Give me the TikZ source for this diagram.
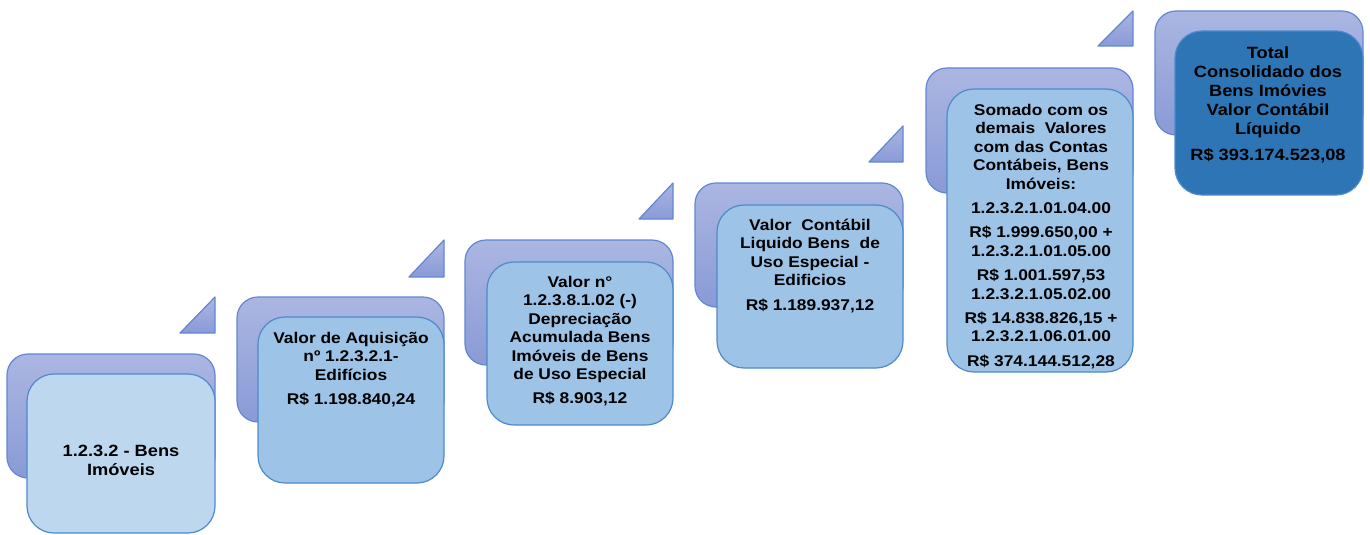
\documentclass[tikz,border=0pt]{standalone}
\usepackage{fontspec}
\setmainfont{Liberation Sans}[FakeStretch=1.12]
\usepackage{tikz}

\definecolor{backtop}{RGB}{171,182,225}
\definecolor{backbot}{RGB}{137,154,214}
\definecolor{backline}{RGB}{98,134,212}
\definecolor{lightfill}{RGB}{189,215,238}
\definecolor{midfill}{RGB}{157,195,230}
\definecolor{darkfill}{RGB}{46,117,182}
\definecolor{frontline}{RGB}{78,138,204}

\begin{document}
\begin{tikzpicture}[line cap=round,line join=round,x=1pt,y=-1pt,
  backbox/.style={draw=backline,line width=1.2pt,rounded corners=21pt,top color=backtop,bottom color=backbot},
  frontbox/.style={draw=frontline,line width=1.2pt,rounded corners=27pt},
  steptri/.style={draw=backline,line width=1.2pt,top color=backtop,bottom color=backbot},
  steptext/.style={anchor=north,align=center,inner sep=0pt,font=\bfseries\fontsize{15.5}{18.4}\selectfont},
  bigtext/.style={font=\bfseries\fontsize{16.3}{19}\selectfont}]
\useasboundingbox (0,0) rectangle (1370,535);
% step 1
\draw[backbox] (7,354) rectangle (215,478);
\draw[frontbox,fill=lightfill] (27,374) rectangle (215,533);
\node[steptext,bigtext,anchor=center] (bens) at (121,460) {1.2.3.2 - Bens\\Imóveis};
\draw[steptri] (180,333) -- (215,333) -- (215,297) -- cycle;
% step 2
\draw[backbox] (237,297) rectangle (444,422);
\draw[frontbox,fill=midfill] (258,317) rectangle (444,483);
\node[steptext] (aquisicao) at (351,332) {Valor de Aquisição\\nº 1.2.3.2.1-\\Edifícios\\[6pt]R\$ 1.198.840,24};
\draw[steptri] (409,277) -- (444,277) -- (444,240) -- cycle;
% step 3
\draw[backbox] (465,240) rectangle (673,365);
\draw[frontbox,fill=midfill] (487,262) rectangle (673,425);
\node[steptext] (depreciacao) at (580,276) {Valor n°\\1.2.3.8.1.02 (-)\\Depreciação\\Acumulada Bens\\Imóveis de Bens\\de Uso Especial\\[6pt]R\$ 8.903,12};
\draw[steptri] (639,219) -- (673,219) -- (673,183) -- cycle;
% step 4
\draw[backbox] (695,183) rectangle (903,307);
\draw[frontbox,fill=midfill] (717,205) rectangle (903,368);
\node[steptext] (liquido) at (810,219) {Valor\ \ Contábil\\Liquido Bens\ \ de\\Uso Especial -\\Edificios\\[6pt]R\$ 1.189.937,12};
\draw[steptri] (869,162) -- (903,162) -- (903,126) -- cycle;
% step 5
\draw[backbox] (926,68) rectangle (1133,193);
\draw[frontbox,fill=midfill] (947,89) rectangle (1133,372);
\node[steptext] (somado) at (1041,104) {Somado com os\\demais\ \ Valores\\com das Contas\\Contábeis, Bens\\Imóveis:\\[6pt]1.2.3.2.1.01.04.00\\[6pt]R\$ 1.999.650,00 +\\1.2.3.2.1.01.05.00\\[6pt]R\$ 1.001.597,53\\1.2.3.2.1.05.02.00\\[6pt]R\$ 14.838.826,15 +\\1.2.3.2.1.06.01.00\\[6pt]R\$ 374.144.512,28};
\draw[steptri] (1098,46) -- (1133,46) -- (1133,11) -- cycle;
% step 6
\draw[backbox] (1155,11) rectangle (1363,135);
\draw[frontbox,fill=darkfill] (1175,31) rectangle (1363,195);
\node[steptext,bigtext] (total) at (1268,46) {Total\\Consolidado dos\\Bens Imóvies\\Valor Contábil\\Líquido\\[7pt]R\$ 393.174.523,08};
\end{tikzpicture}
\end{document}
